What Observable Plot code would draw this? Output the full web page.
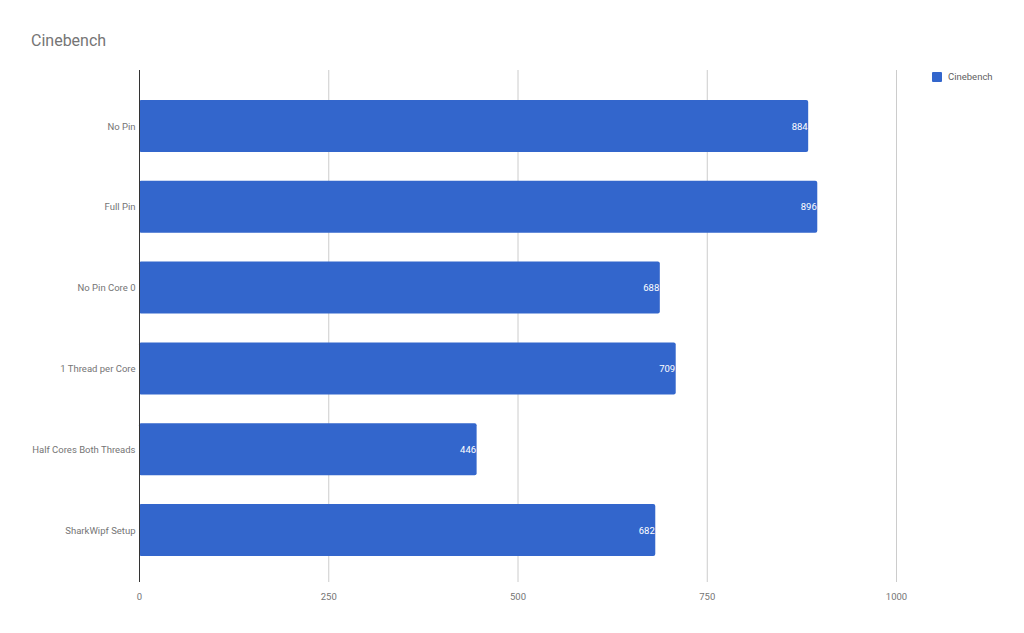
<!DOCTYPE html>
<html>
<head>
<meta charset="utf-8">
<script src="https://cdn.jsdelivr.net/npm/d3@7"></script>
<script src="https://cdn.jsdelivr.net/npm/@observablehq/plot@0.6"></script>
<style>
  body { margin: 0; background: #fff; font-family: Roboto, "Noto Sans", sans-serif; }
  #wrap { position: relative; width: 1024px; height: 633px; }
  #title { position: absolute; left: 31px; top: 31px; font-size: 16px; color: #757575; }
  #legend { position: absolute; left: 932px; top: 71px; font-size: 9.5px; color: #616161; display: flex; align-items: center; }
  #legend span.sw { width: 10px; height: 10px; background: #3366cc; border-radius: 1px; margin-right: 6px; display: inline-block; }
  #chart { position: absolute; left: 0; top: 0; }
</style>
</head>
<body>
<div id="wrap">
  <div id="chart"></div>
  <div id="title">Cinebench</div>
  <div id="legend"><span class="sw"></span>Cinebench</div>
</div>
<script>
const categories = ["No Pin", "Full Pin", "No Pin Core 0", "1 Thread per Core", "Half Cores Both Threads", "SharkWipf Setup"];
const values = [884, 896, 688, 709, 446, 682];
const xTicks = [0, 250, 500, 750, 1000];

const data = categories.map((c, i) => ({category: c, value: values[i]}));

const chart = Plot.plot({
  width: 1024,
  height: 633,
  marginLeft: 139,
  marginRight: 128,
  marginTop: 70,
  marginBottom: 51,
  style: {fontFamily: "Roboto, 'Noto Sans', sans-serif", fontSize: "9.5px", color: "#757575", background: "#fff"},
  x: {domain: [0, 1000], ticks: xTicks, tickFormat: d => String(d), label: null},
  y: {domain: categories, paddingInner: 0.3564, paddingOuter: 0.3465, align: 0.536, round: false, label: null},
  marks: [
    Plot.gridX(xTicks.filter(d => d > 0), {stroke: "#cccccc", strokeOpacity: 1}),
    Plot.axisX(xTicks, {tickSize: 0, tickPadding: 11, tickFormat: d => String(d), fill: "#757575", fontSize: 9.5, label: null}),
    Plot.axisY({tickSize: 0, tickPadding: 4, fill: "#757575", fontSize: 9.5, label: null}),
    Plot.barX(data, {x: "value", y: "category", fill: "#3366cc", rx: 2}),
    Plot.ruleX([0], {stroke: "#333333", strokeWidth: 1}),
    Plot.text(data, {x: "value", y: "category", text: d => String(d.value), textAnchor: "end", dx: -1, fill: "#ffffff", fontSize: 9.5})
  ]
});
document.getElementById("chart").appendChild(chart);
</script>
</body>
</html>
